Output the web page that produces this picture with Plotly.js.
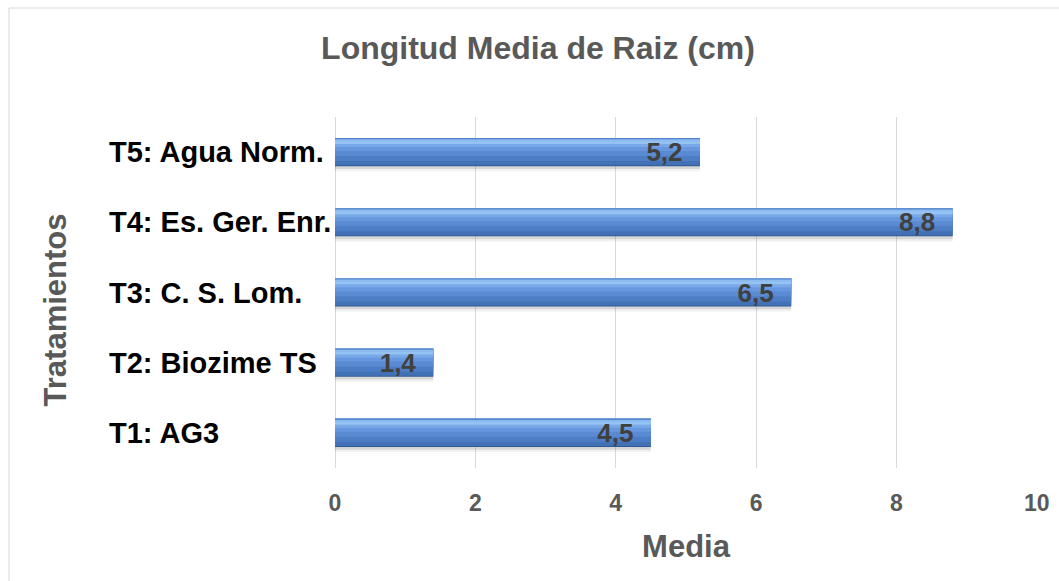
<!DOCTYPE html>
<html>
<head>
<meta charset="utf-8">
<script src="https://cdn.plot.ly/plotly-3.0.1.min.js"></script>
<style>
  html, body { margin: 0; padding: 0; background: #ffffff; }
  #chart { width: 1059px; height: 581px; }
</style>
</head>
<body>
<div id="chart"></div>
<script>
// Treatments, bottom to top
const treatments = ["T1: AG3", "T2: Biozime TS", "T3: C. S. Lom.", "T4: Es. Ger. Enr.", "T5: Agua Norm."];
// Mean root length (cm)
const meanRoot = [4.5, 1.4, 6.5, 8.8, 5.2];
const xTicks = [0, 2, 4, 6, 8, 10];

const FONT = "Liberation Sans, Arial, Helvetica, sans-serif";

// Bar thickness in category units and the glossy shading, listed as
// [distance from the bar top to the band's lower edge (fraction of the bar), colour].
// Bands are drawn widest first, each one starting at the bar top.
const BAR_W = 0.4;
const shading = [
  [1.18, "rgba(120,120,120,0.10)"],
  [1.10, "rgba(110,110,110,0.20)"],
  [1.00, "#2F5B95"],
  [0.965, "#4272B5"],
  [0.82, "#4D7DC4"],
  [0.64, "#5A8AD2"],
  [0.46, "#6797DE"],
  [0.32, "#79A8E8"],
  [0.21, "#94C2F3"],
  [0.11, "#8CBAF0"],
  [0.04, "#5183C8"]
];

const traces = shading.map(([depth, color]) => ({
  type: "bar", orientation: "h",
  x: meanRoot, y: treatments,
  offset: BAR_W / 2 - depth * BAR_W,
  width: depth * BAR_W,
  marker: { color: color, line: { width: 0 } },
  hoverinfo: "skip", showlegend: false
}));

// Value labels, right-aligned inside the bar end
traces.push({
  type: "bar", orientation: "h",
  x: meanRoot, y: treatments,
  offset: -BAR_W / 2, width: BAR_W,
  marker: { color: "rgba(0,0,0,0)" },
  texttemplate: "%{x:.1f}\u00a0\u00a0",
  textposition: "inside",
  insidetextanchor: "end",
  constraintext: "none",
  textfont: { family: FONT, size: 26, weight: "bold", color: "#404040" },
  hoverinfo: "skip", showlegend: false
});

// Left-aligned category labels
const annotations = treatments.map(t => ({
  xref: "paper", yref: "y",
  x: -0.3248, y: t,
  xanchor: "left", yanchor: "middle",
  text: t, showarrow: false,
  font: { family: FONT, size: 29, weight: "bold", color: "#000000" }
}));

// Vertical axis title
annotations.push({
  xref: "paper", yref: "paper",
  x: -0.3983, y: 0.45,
  xanchor: "center", yanchor: "middle",
  text: "Tratamientos", textangle: -90, showarrow: false,
  font: { family: FONT, size: 31, weight: "bold", color: "#595959" }
});

const layout = {
  width: 1059, height: 581,
  margin: { l: 335, r: 22, t: 117, b: 113 },
  paper_bgcolor: "#ffffff",
  plot_bgcolor: "#ffffff",
  separators: ",.",
  barmode: "overlay",
  title: {
    text: "Longitud Media de Raiz (cm)",
    font: { family: FONT, size: 32, weight: "bold", color: "#595959" },
    xref: "container", yref: "container",
    x: 0.508, xanchor: "center",
    y: 1 - 48 / 581, yanchor: "middle"
  },
  xaxis: {
    range: [0, 10.002],
    tickvals: xTicks,
    ticktext: xTicks.map(String),
    showgrid: true, gridcolor: "#D9D9D9", gridwidth: 1,
    zeroline: true, zerolinecolor: "#D9D9D9", zerolinewidth: 1,
    showline: false, ticks: "",
    ticklabelstandoff: 19,
    tickfont: { family: FONT, size: 23, weight: "bold", color: "#595959" },
    title: {
      text: "Media",
      font: { family: FONT, size: 31, weight: "bold", color: "#595959" },
      standoff: 20
    },
    automargin: false,
    fixedrange: true
  },
  yaxis: {
    type: "category",
    categoryorder: "array", categoryarray: treatments,
    range: [-0.5, 4.5],
    showticklabels: false,
    showgrid: false, zeroline: false, showline: false, ticks: "",
    automargin: false,
    fixedrange: true
  },
  annotations: annotations,
  shapes: [{
    type: "rect", xref: "paper", yref: "paper",
    x0: -0.4644, x1: 1.06, y0: -0.4, y1: 1.3105,
    line: { color: "#D9D9D9", width: 1 }, fillcolor: "rgba(0,0,0,0)",
    layer: "below"
  }],
  showlegend: false
};

Plotly.newPlot("chart", traces, layout, { displayModeBar: false, staticPlot: true });
</script>
</body>
</html>
